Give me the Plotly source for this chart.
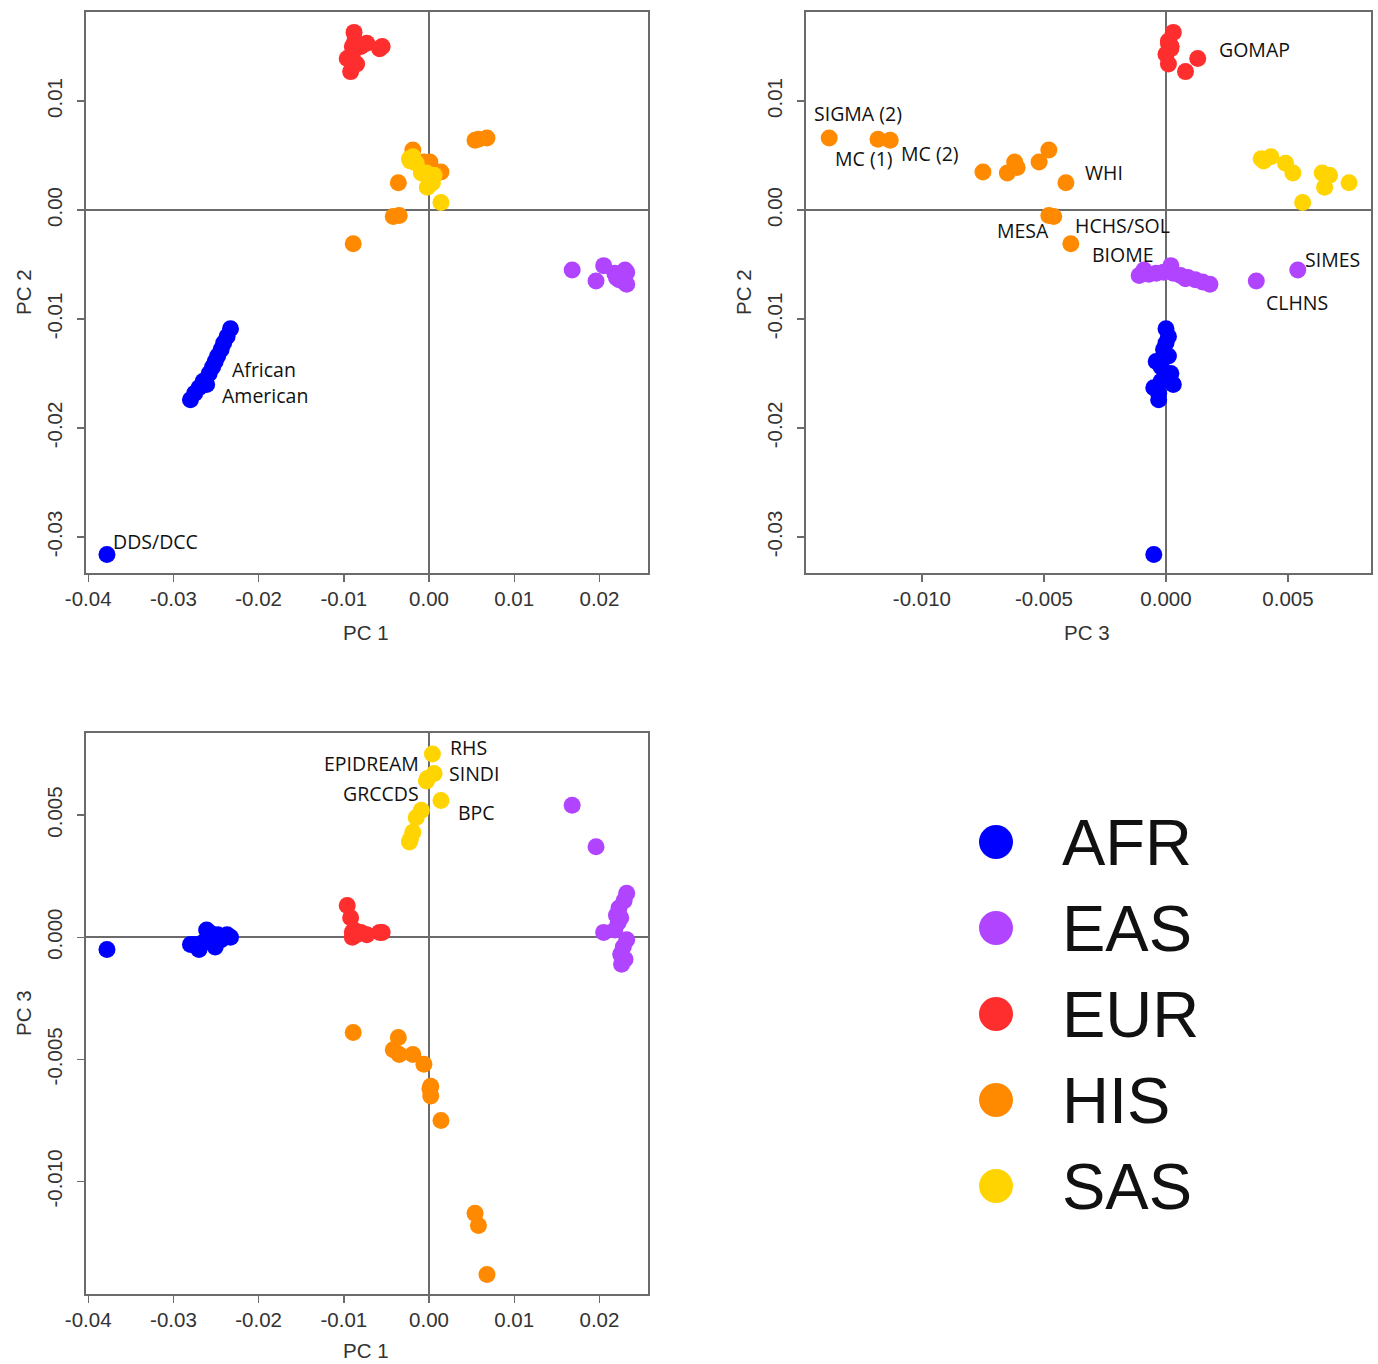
import plotly.graph_objects as go

# ---------------- data (PC1, PC2, PC3 per cohort) ----------------
groups = ["AFR", "EAS", "EUR", "HIS", "SAS"]
colors = {"AFR": "#0000FF", "EAS": "#B044FF", "EUR": "#FF2E2E", "HIS": "#FF8A00", "SAS": "#FFD400"}

afr_pc1 = [-0.0378, -0.0233, -0.0237, -0.0241, -0.0244, -0.0248, -0.0251, -0.0254, -0.0258, -0.0261, -0.0265, -0.0270, -0.0275, -0.0280]
afr_pc2 = [-0.0316, -0.0109, -0.0116, -0.0122, -0.0128, -0.0134, -0.0139, -0.0144, -0.0150, -0.0160, -0.0157, -0.0163, -0.0168, -0.0174]
afr_pc3 = [-0.0005, 0.0000, 0.0001, 0.0000, -0.0001, 0.0001, -0.0004, -0.0002, 0.0002, 0.0003, -0.0002, -0.0005, -0.0003, -0.0003]

eas_pc1 = [0.0168, 0.0196, 0.0226, 0.0225, 0.0228, 0.0232, 0.0205, 0.0218, 0.0222, 0.0220, 0.0223, 0.0229, 0.0232, 0.0225, 0.0230]
eas_pc2 = [-0.0055, -0.0065, -0.0060, -0.0059, -0.0058, -0.0057, -0.0051, -0.0058, -0.0060, -0.0062, -0.0064, -0.0066, -0.0068, -0.0063, -0.0055]
eas_pc3 = [0.0054, 0.0037, -0.0011, -0.0007, -0.0004, -0.0001, 0.0002, 0.0003, 0.0006, 0.0009, 0.0012, 0.0015, 0.0018, 0.0008, -0.0009]

eur_pc1 = [-0.0096, -0.0092, -0.0088, -0.0090, -0.0087, -0.0090, -0.0080, -0.0073, -0.0058, -0.0055, -0.0085]
eur_pc2 = [0.0139, 0.0127, 0.0163, 0.0150, 0.0155, 0.0143, 0.0150, 0.0153, 0.0148, 0.0150, 0.0134]
eur_pc3 = [0.0013, 0.0008, 0.0003, 0.0002, 0.0001, 0.0000, 0.0002, 0.0001, 0.0002, 0.0002, 0.0001]

his_pc1 = [0.0068, 0.0058, 0.0054, 0.0014, 0.0002, 0.0001, 0.0002, -0.0006, -0.0019, -0.0036, -0.0042, -0.0035, -0.0089]
his_pc2 = [0.0066, 0.0065, 0.0064, 0.0035, 0.0034, 0.0044, 0.0039, 0.0044, 0.0055, 0.0025, -0.0006, -0.0005, -0.0031]
his_pc3 = [-0.0138, -0.0118, -0.0113, -0.0075, -0.0065, -0.0062, -0.0061, -0.0052, -0.0048, -0.0041, -0.0046, -0.0048, -0.0039]

sas_pc1 = [0.0004, 0.0006, -0.0003, -0.0002, 0.0014, -0.0009, -0.0015, -0.0019, -0.0022, -0.0023]
sas_pc2 = [0.0025, 0.0032, 0.0034, 0.0021, 0.0007, 0.0034, 0.0043, 0.0049, 0.0045, 0.0047]
sas_pc3 = [0.0075, 0.0067, 0.0064, 0.0065, 0.0056, 0.0052, 0.0049, 0.0043, 0.0040, 0.0039]

pcs = {
    "AFR": (afr_pc1, afr_pc2, afr_pc3),
    "EAS": (eas_pc1, eas_pc2, eas_pc3),
    "EUR": (eur_pc1, eur_pc2, eur_pc3),
    "HIS": (his_pc1, his_pc2, his_pc3),
    "SAS": (sas_pc1, sas_pc2, sas_pc3),
}

pc1_ticks = [-0.04, -0.03, -0.02, -0.01, 0.00, 0.01, 0.02]
pc1_ticktext = ["-0.04", "-0.03", "-0.02", "-0.01", "0.00", "0.01", "0.02"]
pc2_ticks = [-0.03, -0.02, -0.01, 0.00, 0.01]
pc2_ticktext = ["-0.03", "-0.02", "-0.01", "0.00", "0.01"]
pc3_ticks = [-0.010, -0.005, 0.000, 0.005]
pc3_ticktext = ["-0.010", "-0.005", "0.000", "0.005"]

# ---------------- figure ----------------
W, H = 1378, 1364
fig = go.Figure()

def px_x(a, b):
    return [a / W, b / W]

def px_y(top, bottom):
    return [1 - bottom / H, 1 - top / H]

panels = [
    ("x", "y", 0, 1),
    ("x2", "y2", 2, 1),
    ("x3", "y3", 0, 2),
]

MS = 17
for xa, ya, xi, yi in panels:
    for g in groups:
        d = pcs[g]
        fig.add_trace(go.Scatter(
            x=d[xi], y=d[yi], mode="markers", xaxis=xa, yaxis=ya,
            marker=dict(size=MS, color=colors[g], line=dict(width=0)),
            showlegend=False, hoverinfo="skip",
        ))

# legend drawn on its own hidden axis
fig.add_trace(go.Scatter(
    x=[0] * len(groups), y=groups, mode="markers", xaxis="x4", yaxis="y4",
    marker=dict(size=34, color=[colors[g] for g in groups], line=dict(width=0)),
    showlegend=False, hoverinfo="skip",
))

TICKFONT = dict(family="Liberation Sans, Arial, sans-serif", size=20.5, color="#333333")
LBLFONT = dict(family="Open Sans, sans-serif", size=19.5, color="#111111")

def axis_common():
    return dict(
        showline=True, mirror=True, linecolor="#6b6b6b", linewidth=1.6,
        ticks="outside", ticklen=7, tickcolor="#6b6b6b", tickwidth=1.4,
        showgrid=False, zeroline=True, zerolinecolor="#6b6b6b", zerolinewidth=1.6,
        tickfont=TICKFONT, tickmode="array", automargin=False,
    )

xr1 = [-0.04026, 0.0257]
yr12 = [-0.0333, 0.01817]
xr2 = [-0.01475, 0.0084]
yr3 = [-0.0146, 0.00836]

fig.update_layout(
    width=W, height=H, margin=dict(l=0, r=0, t=0, b=0, autoexpand=False),
    paper_bgcolor="white", plot_bgcolor="white",
    xaxis=dict(domain=px_x(86, 648), range=xr1, tickvals=pc1_ticks, ticktext=pc1_ticktext, anchor="y",
               ticklabelstandoff=0, **axis_common()),
    yaxis=dict(domain=px_y(12, 573), range=yr12, tickvals=pc2_ticks, ticktext=pc2_ticktext, anchor="x",
               tickangle=-90, ticklabelstandoff=7, **axis_common()),
    xaxis2=dict(domain=px_x(806, 1371), range=xr2, tickvals=pc3_ticks, ticktext=pc3_ticktext, anchor="y2",
                ticklabelstandoff=0, **axis_common()),
    yaxis2=dict(domain=px_y(12, 573), range=yr12, tickvals=pc2_ticks, ticktext=pc2_ticktext, anchor="x2",
                tickangle=-90, ticklabelstandoff=7, **axis_common()),
    xaxis3=dict(domain=px_x(86, 648), range=xr1, tickvals=pc1_ticks, ticktext=pc1_ticktext, anchor="y3",
                ticklabelstandoff=0, **axis_common()),
    yaxis3=dict(domain=px_y(733, 1294), range=yr3, tickvals=pc3_ticks, ticktext=pc3_ticktext, anchor="x3",
                tickangle=-90, ticklabelstandoff=7, **axis_common()),
    xaxis4=dict(domain=px_x(960, 1300), range=[-36, 304], visible=False, fixedrange=True, automargin=False),
    yaxis4=dict(domain=px_y(799, 1229), type="category", categoryorder="array", categoryarray=groups,
                range=[len(groups) - 0.5, -0.5], visible=False, anchor="x4", automargin=False),
)

ann = []
for g in groups:
    ann.append(dict(x=64, y=g, xref="x4", yref="y4", text=g, showarrow=False,
                    xanchor="left", yanchor="middle",
                    font=dict(family="Liberation Sans, Arial, sans-serif", size=65, color="#111111")))

TITLEFONT = dict(family="Liberation Sans, Arial, sans-serif", size=20.5, color="#333333")
def title(text, cx, cy, angle=0):
    ann.append(dict(x=cx / W, y=1 - cy / H, xref="paper", yref="paper", text=text, showarrow=False,
                    xanchor="center", yanchor="middle", textangle=angle, font=TITLEFONT))

title("PC 1", 366, 632)
title("PC 2", 23, 292, -90)
title("PC 3", 1087, 632)
title("PC 2", 743, 292, -90)
title("PC 1", 366, 1350)
title("PC 3", 23, 1013, -90)

def lab(text, x, y, xr, yr, anchor="left"):
    ann.append(dict(x=x, y=y, xref=xr, yref=yr, text=text, showarrow=False,
                    xanchor=anchor, yanchor="middle", font=LBLFONT))

lab("African", -0.0234, -0.0146, "x", "y")
lab("American", -0.0245, -0.0170, "x", "y")
lab("DDS/DCC", -0.0373, -0.0304, "x", "y")

lab("SIGMA (2)", -0.01451, 0.0089, "x2", "y2")
lab("MC (1)", -0.01365, 0.0047, "x2", "y2")
lab("MC (2)", -0.01094, 0.0052, "x2", "y2")
lab("WHI", -0.0034, 0.0034, "x2", "y2")
lab("MESA", -0.0070, -0.0019, "x2", "y2")
lab("HCHS/SOL", -0.0038, -0.0014, "x2", "y2")
lab("BIOME", -0.0031, -0.0041, "x2", "y2")
lab("GOMAP", 0.0021, 0.0147, "x2", "y2")
lab("SIMES", 0.0056, -0.0045, "x2", "y2")
lab("CLHNS", 0.0040, -0.0085, "x2", "y2")

lab("RHS", 0.0022, 0.00775, "x3", "y3")
lab("EPIDREAM", -0.0009, 0.00710, "x3", "y3", "right")
lab("SINDI", 0.0021, 0.0067, "x3", "y3")
lab("GRCCDS", -0.0009, 0.00590, "x3", "y3", "right")
lab("BPC", 0.0032, 0.0051, "x3", "y3")

fig.update_layout(annotations=ann)
fig.write_html("out.html", config={"displayModeBar": False, "staticPlot": True},
               post_script="document.body.style.margin='0px';document.body.style.overflow='hidden';")
